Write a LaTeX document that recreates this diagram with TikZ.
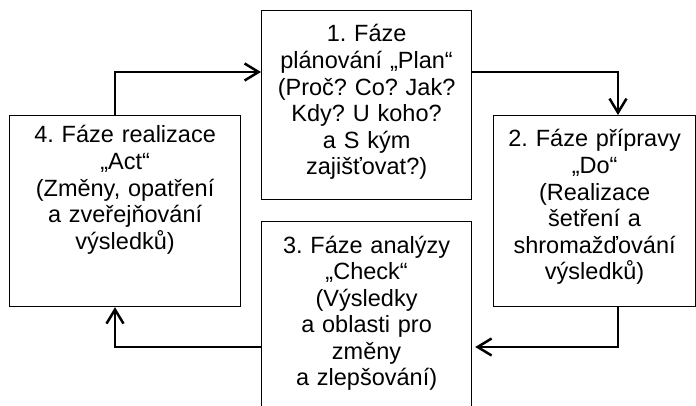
\documentclass[tikz,border=0pt]{standalone}
\usepackage{fontspec}
\setmainfont{Liberation Sans}
\frenchspacing
\usetikzlibrary{arrows.meta,positioning}

\begin{document}
\begin{tikzpicture}[x=1pt,y=-1pt,
		phase/.style={draw, line width=1.2pt, inner sep=0pt, anchor=north west},
		phasetext/.style={text width=230pt, align=center, inner sep=0pt, font=\fontsize{23.5}{26.6}\selectfont},
		flow/.style={line width=2.6pt, -{Straight Barb[length=14pt,width=17pt,line width=2.5pt]}}]
		\useasboundingbox (0,0) rectangle (696,406);
		\clip (0,0) rectangle (696,406);
		% boxes
		\node[phase, minimum width=210pt, minimum height=189pt] (plan) at (261,10) {};
		\node[phase, minimum width=202pt, minimum height=191pt] (do) at (493,115) {};
		\node[phase, minimum width=210pt, minimum height=220pt] (check) at (261,221) {};
		\node[phase, minimum width=231pt, minimum height=191pt] (act) at (9,115) {};
		
		% texts
		\node[phasetext, below=32pt of plan.north, anchor=base] (plantext) {1. Fáze\\plánování „Plan“\\(Proč? Co? Jak?\\Kdy? U koho?\\a S kým\\zajišťovat?)};
		\node[phasetext, below=32pt of do.north, anchor=base] (dotext) {2. Fáze přípravy\\„Do“\\(Realizace\\šetření a\\shromažďování\\výsledků)};
		\node[phasetext, below=32pt of check.north, anchor=base] (checktext) {3. Fáze analýzy\\„Check“\\(Výsledky\\a oblasti pro\\změny\\a zlepšování)};
		\node[phasetext, below=28pt of act.north, anchor=base] (acttext) {4. Fáze realizace\\„Act“\\(Změny, opatření\\a zveřejňování\\výsledků)};
		
		% cycle
		\draw[flow] ([xshift=106pt]act.north west) |- ([yshift=-62pt]plan.north west);
		\draw[flow] ([yshift=-62pt]plan.north east) -| ([xshift=125pt]do.north west);
		\draw[flow] ([xshift=125pt]do.south west) |- ([xshift=3pt,yshift=-126pt]check.north east);
		\draw[flow] ([yshift=-126pt]check.north west) -| ([xshift=106pt]act.south west);
		\end{tikzpicture}
\end{document}
